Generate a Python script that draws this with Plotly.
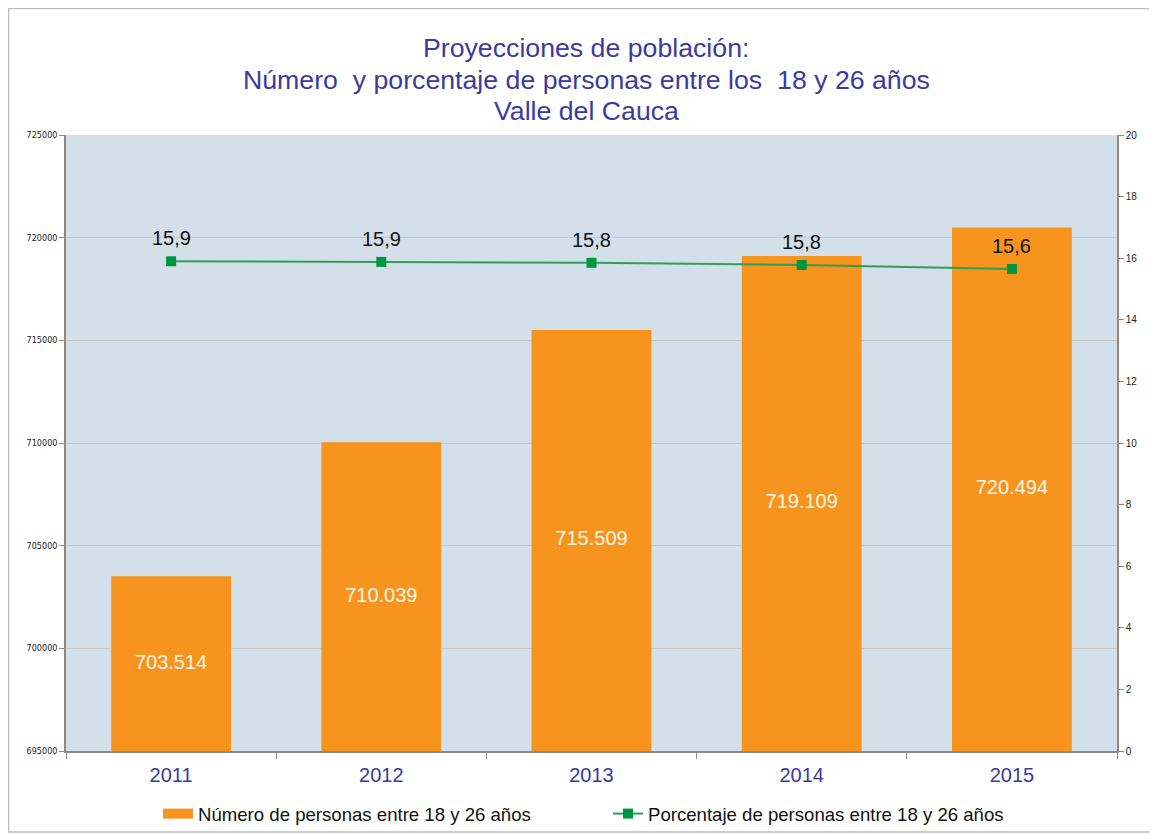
import plotly.graph_objects as go

years = ["2011", "2012", "2013", "2014", "2015"]
personas = [703514, 710039, 715509, 719109, 720494]
personas_labels = ["703.514", "710.039", "715.509", "719.109", "720.494"]
porcentaje = [15.9, 15.88, 15.85, 15.78, 15.65]
porcentaje_labels = ["15,9", "15,9", "15,8", "15,8", "15,6"]
left_ticks = [695000, 700000, 705000, 710000, 715000, 720000, 725000]
right_ticks = [0, 2, 4, 6, 8, 10, 12, 14, 16, 18, 20]
title_lines = [
    "Proyecciones de población:",
    "Número  y porcentaje de personas entre los  18 y 26 años",
    "Valle del Cauca",
]
y_base = 695000

FONT = "Liberation Sans, Arial, sans-serif"
TITLE_COLOR = "#3A3AA0"
ORANGE = "#F7941D"

# The page body has an 8px margin; size the figure to fill the remaining window.
OFF = 8
W, H = 1157 - OFF, 839 - OFF
L, R, T, B = 66 - OFF, 40, 135 - OFF, 88
PW, PH = W - L - R, H - T - B


def py(screen_y):
    """screen pixel y -> paper y"""
    return 1 + (135 - screen_y) / PH


def px(screen_x):
    return (screen_x - 66) / PW


fig = go.Figure()
fig.add_trace(go.Bar(
    x=years, y=personas, name="Número de personas entre 18 y 26 años",
    marker=dict(color=ORANGE, line=dict(width=0)),
    width=0.57, showlegend=False, yaxis="y",
))
# legend stand-in for the bar series (wide rectangle swatch)
fig.add_trace(go.Scatter(
    x=[years[0]], y=[None], mode="lines", name="Número de personas entre 18 y 26 años",
    line=dict(color=ORANGE, width=14), yaxis="y", hoverinfo="skip",
))
fig.add_trace(go.Scatter(
    x=years, y=[(y_base + v) / 2 for v in personas], name="bar labels", showlegend=False,
    mode="text", text=personas_labels, hoverinfo="skip",
    textfont=dict(color="#FFF5EA", size=20, family=FONT),
    yaxis="y",
))
fig.add_trace(go.Scatter(
    x=years, y=porcentaje, name="Porcentaje de personas entre 18 y 26 años",
    mode="lines+markers",
    line=dict(color="#2E9E5A", width=2),
    marker=dict(symbol="square", size=10, color="#00963F"),
    yaxis="y2",
))

annotations = []
for i, (val, lab) in enumerate(zip(porcentaje, porcentaje_labels)):
    annotations.append(dict(
        x=i, y=val, xref="x", yref="y2", text=lab, showarrow=False,
        yanchor="middle", yshift=23,
        font=dict(color="#111111", size=20, family=FONT),
    ))
for line, sy in zip(title_lines, [48, 80, 111]):
    annotations.append(dict(
        x=px(586), y=py(sy), xref="paper", yref="paper", text=line, showarrow=False,
        xanchor="center", yanchor="middle",
        font=dict(size=26.7, color=TITLE_COLOR, family=FONT),
    ))

fig.update_layout(
    width=W, height=H,
    margin=dict(l=L, r=R, t=T, b=B, autoexpand=False),
    paper_bgcolor="white",
    plot_bgcolor="#D3E0E9",
    font=dict(family=FONT, color="#111111"),
    xaxis=dict(
        type="category", categoryorder="array", categoryarray=years,
        range=[-0.5, len(years) - 0.5],
        tickson="boundaries", ticks="outside", ticklen=6,
        tickcolor="#8a8a8a", showline=True, linecolor="#8a8a8a", linewidth=1.5,
        showgrid=False, tickfont=dict(size=20, color=TITLE_COLOR, family=FONT),
        ticklabelstandoff=5, automargin=False, tickangle=0,
    ),
    yaxis=dict(
        range=[695000, 725000], tickvals=left_ticks, ticktext=[str(v) for v in left_ticks],
        ticks="outside", ticklen=5, tickcolor="#8a8a8a",
        showline=True, linecolor="#8a8a8a", linewidth=1.5,
        showgrid=True, gridcolor="#C8C8C8", gridwidth=1,
        tickfont=dict(size=9, color="#222222", family="DejaVu Sans Condensed, " + FONT),
        zeroline=False, automargin=False,
    ),
    yaxis2=dict(
        range=[0, 20], tickvals=right_ticks, overlaying="y", side="right",
        ticks="outside", ticklen=5, tickcolor="#8a8a8a",
        showline=True, linecolor="#8a8a8a", linewidth=1.5,
        showgrid=False, zeroline=False, automargin=False,
        tickfont=dict(size=10, color="#222222", family=FONT),
    ),
    legend=dict(
        orientation="h", x=px(158), xanchor="left", y=py(814), yanchor="middle",
        font=dict(size=18.6, color="#111111", family=FONT),
        traceorder="normal", itemwidth=30, entrywidth=405, entrywidthmode="pixels",
        bgcolor="rgba(0,0,0,0)",
    ),
    annotations=annotations,
    shapes=[dict(
        type="rect", xref="paper", yref="paper",
        x0=px(8.5), x1=px(1150),
        y0=py(832), y1=py(8.5),
        line=dict(color="#BDBDBD", width=1.5), layer="below",
    )],
)

fig.write_html("out.html")
